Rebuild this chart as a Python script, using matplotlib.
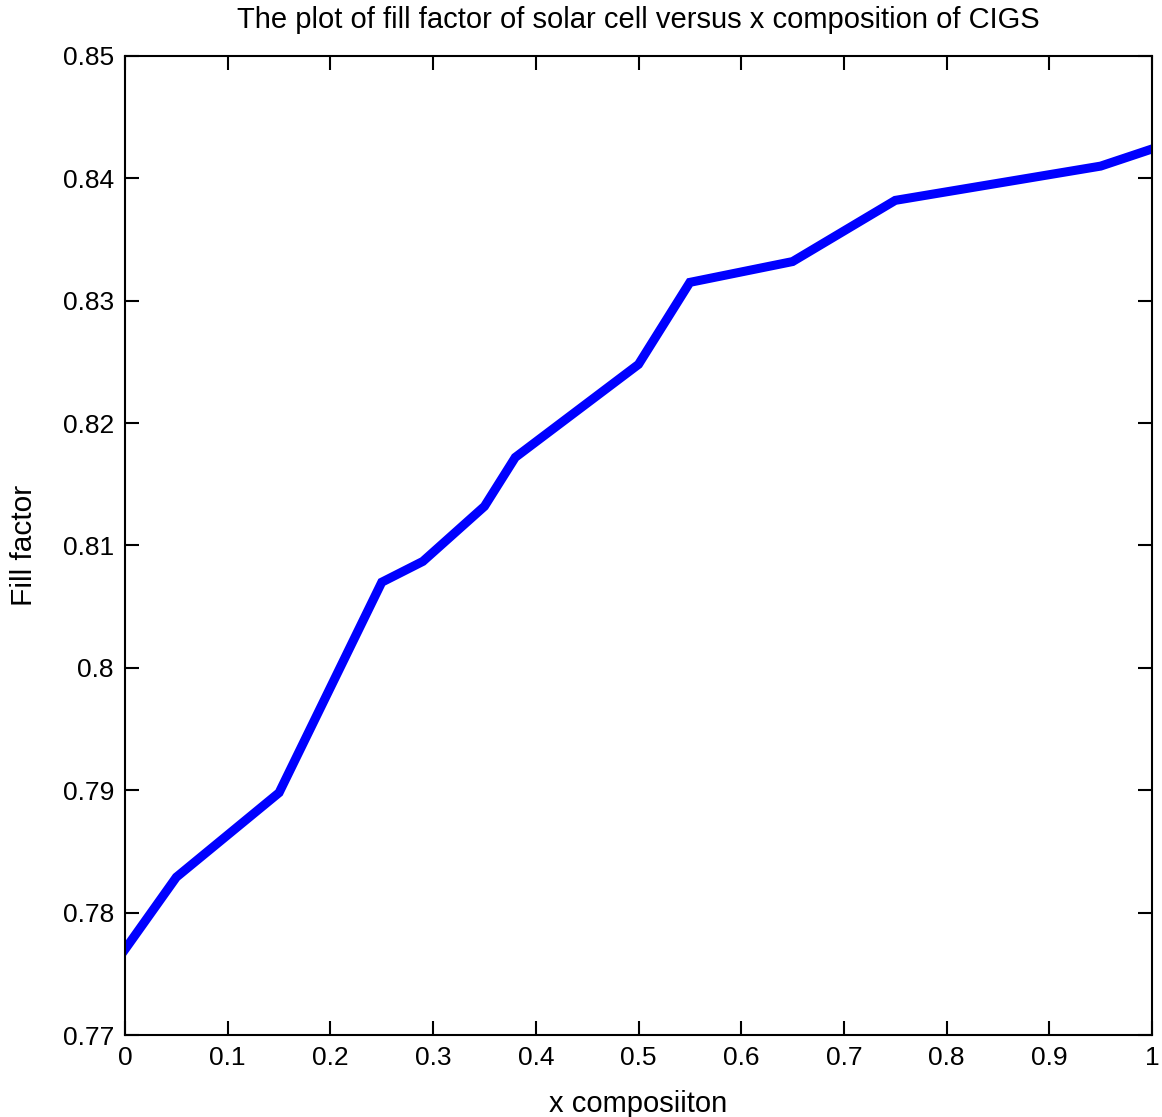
import matplotlib
matplotlib.use('Agg')
import matplotlib.pyplot as plt

# fill factor (kink points)
x_comp = [0.0, 0.05, 0.15, 0.25, 0.29, 0.35, 0.38, 0.50, 0.55, 0.65, 0.75, 0.95, 1.0]
fill_factor = [0.7770, 0.7829, 0.7898, 0.8070, 0.8087, 0.8132, 0.8172,
               0.8248, 0.8315, 0.8332, 0.8382, 0.8410, 0.8424]

x_ticks = [0, 0.1, 0.2, 0.3, 0.4, 0.5, 0.6, 0.7, 0.8, 0.9, 1]
x_ticklabels = ['0', '0.1', '0.2', '0.3', '0.4', '0.5', '0.6', '0.7', '0.8', '0.9', '1']
y_ticks = [0.77, 0.78, 0.79, 0.80, 0.81, 0.82, 0.83, 0.84, 0.85]
y_ticklabels = ['0.77', '0.78', '0.79', '0.8', '0.81', '0.82', '0.83', '0.84', '0.85']

plt.rcParams['font.family'] = ['Liberation Sans', 'DejaVu Sans']

fig = plt.figure(figsize=(11.62, 11.17), dpi=100)
ax = fig.add_axes([0.1076, 0.0734, 0.8838, 0.8765])

ax.plot(x_comp, fill_factor, color='#0000ff', linewidth=6.5, solid_joinstyle='miter')

ax.set_xlim(0, 1)
ax.set_ylim(0.77, 0.85)
ax.set_xticks(x_ticks)
ax.set_xticklabels(x_ticklabels)
ax.set_yticks(y_ticks)
ax.set_yticklabels(y_ticklabels)
ax.tick_params(direction='in', length=10, width=1.5, top=True, right=True,
               labelsize=19, pad=8)
for sp in ax.spines.values():
    sp.set_linewidth(1.5)

ax.set_title('The plot of fill factor of solar cell versus x composition of CIGS',
             fontsize=21, pad=20)
ax.set_xlabel('x composiiton', fontsize=21, labelpad=14)
ax.set_ylabel('Fill factor', fontsize=21.5, labelpad=18)

fig.savefig('out.png', dpi=100)
